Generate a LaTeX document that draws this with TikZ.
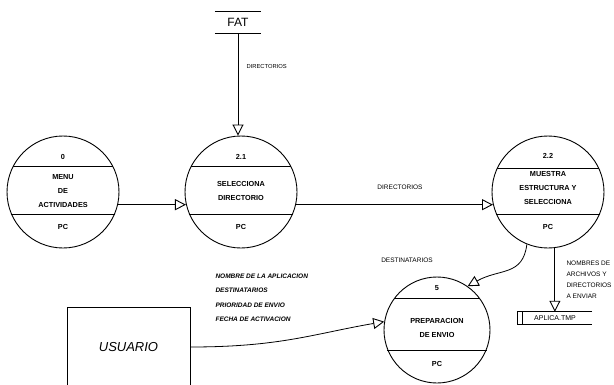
\documentclass[tikz,border=0pt]{standalone}
\usepackage{fontspec}
\setmainfont{Liberation Sans}
\usetikzlibrary{arrows.meta, positioning, calc}

\begin{document}
\begin{tikzpicture}[x=1pt, y=1pt,
  proc/.style={draw, circle, minimum size=112pt, inner sep=0pt, line width=0.9pt},
  chord/.style={line width=0.9pt},
  store/.style={inner sep=0pt, font=\fontsize{12}{12}\selectfont},
  ext/.style={draw, line width=0.9pt, minimum width=123pt, minimum height=79pt, font=\fontsize{13}{13}\selectfont\itshape},
  ptxt/.style={font=\fontsize{7.3}{14}\selectfont\bfseries, align=center},
  lbl/.style={font=\fontsize{6.5}{11}\selectfont, align=left},
  ilbl/.style={font=\fontsize{6.5}{14.5}\selectfont\bfseries\itshape, align=left},
  flow/.style={-{Triangle[open, length=11pt, width=11pt, line width=0.9pt]}, line width=0.8pt},
]
  \useasboundingbox (0,0) rectangle (614,384);

  % Data stores
  \node[store, minimum width=46pt, minimum height=21pt] (fat) at (238,361.5) {FAT};
  \draw[chord] (fat.north west) -- (fat.north east) (fat.south west) -- (fat.south east);

  \node[store, minimum width=74pt, minimum height=12pt, font=\fontsize{7}{7}\selectfont] (apl) at (555,66) {APLICA.TMP};
  \draw[chord] (apl.north east) -- (apl.north west) -- (apl.south west) -- (apl.south east);
  \draw[chord] ([xshift=5pt]apl.north west) -- ([xshift=5pt]apl.south west);

  % Processes
  \node[proc] (p0) at (63,192) {};
  \draw[chord] (p0.153) -- (p0.27) (p0.203) -- (p0.-23);
  \node[ptxt] (n0) at (63,227) {0};
  \node[ptxt] (t0) at (63,193) {MENU\\DE\\ACTIVIDADES};
  \node[ptxt] (h0) at (63,157) {PC};

  \node[proc] (p21) at (241,192) {};
  \draw[chord] (p21.153) -- (p21.27) (p21.203) -- (p21.-23);
  \node[ptxt] (n21) at (241,227) {2.1};
  \node[ptxt] (t21) at (241,193) {SELECCIONA\\DIRECTORIO};
  \node[ptxt] (h21) at (241,157) {PC};

  \node[proc] (p22) at (548,192) {};
  \draw[chord] (p22.155) -- (p22.25) (p22.203) -- (p22.-23);
  \node[ptxt] (n22) at (548,228) {2.2};
  \node[ptxt] (t22) at (548,196) {MUESTRA\\ESTRUCTURA Y\\SELECCIONA};
  \node[ptxt] (h22) at (548,157) {PC};

  \node[proc, minimum size=106pt] (p5) at (437,54) {};
  \draw[chord] (p5.144) -- (p5.36) (p5.202) -- (p5.-22);
  \node[ptxt] (n5) at (437,96) {5};
  \node[ptxt] (t5) at (437,56) {PREPARACION\\DE ENVIO};
  \node[ptxt] (h5) at (437,20) {PC};

  % External entity
  \node[ext] (usr) at (128.5,37) {USUARIO};

  % Flows
  \draw[flow] (fat.south) -- (fat.south |- p21.north);
  \draw[flow] (p0.-13) -- (p21.193);
  \draw[flow] (p21.-13) -- (p22.193);
  \draw[flow] (p22.-83) -- (p22.-83 |- apl.north);
  \draw[flow] (p22.-112) .. controls +(-4,-32) and +(32,18) .. (p5.55);
  \draw[flow] (usr.east) .. controls +(90,0) and +(-70,-12) .. (p5.171);

  % Labels
  \node[lbl, font=\fontsize{5.8}{10}\selectfont, anchor=west] (ldir) at (243,317) {DIRECTORIOS};
  \node[lbl] (ldir2) at (400,197) {DIRECTORIOS};
  \node[lbl] (ldest) at (407,124) {DESTINATARIOS};
  \node[lbl, anchor=north west] (lnom) at (563,127) {NOMBRES DE\\ARCHIVOS Y\\DIRECTORIOS\\A ENVIAR};
  \node[ilbl, anchor=north west] (lusr) at (212,114) {NOMBRE DE LA APLICACION\\DESTINATARIOS\\PRIORIDAD DE ENVIO\\FECHA DE ACTIVACION};
\end{tikzpicture}
\end{document}
